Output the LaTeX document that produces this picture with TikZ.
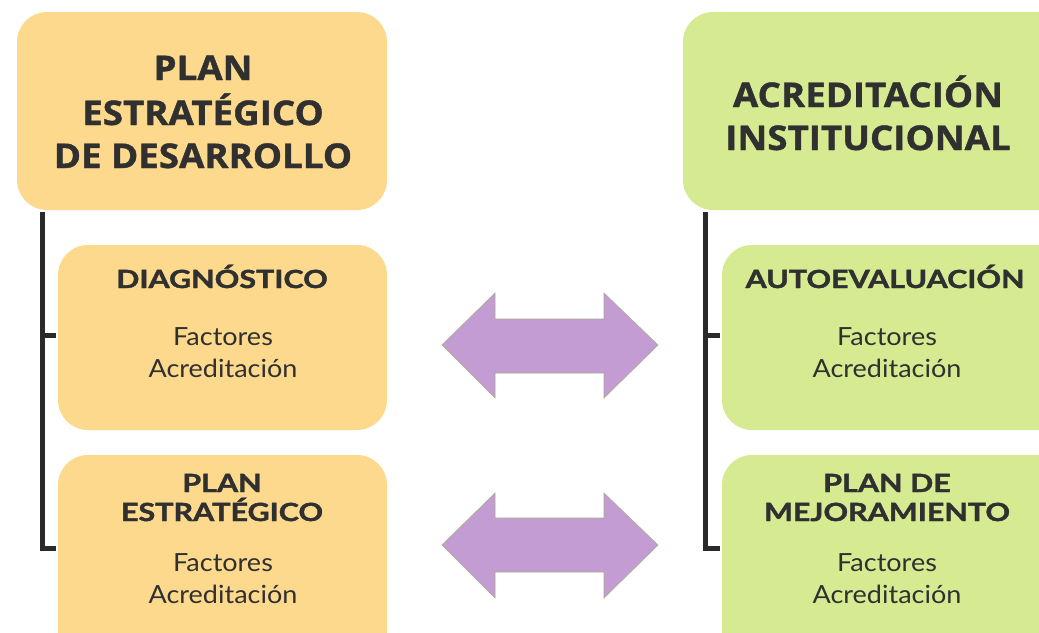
\documentclass[tikz,border=0pt]{standalone}
\usepackage{fontspec}
\setmainfont{Lato}[FakeStretch=1.08]
\newfontfamily\hdfont{Open Sans}[FakeStretch=1.08, BoldFeatures={FakeBold=1.2}]
\newfontfamily\subfont{Lato}[FakeStretch=1.22, BoldFeatures={FakeBold=1.6}]
\definecolor{orangebox}{HTML}{FCD98C}
\definecolor{greenbox}{HTML}{D6EB91}
\definecolor{arrowfill}{HTML}{C39CD3}
\definecolor{arrowline}{HTML}{A9AE8C}
\definecolor{txt}{HTML}{303030}
\definecolor{bracket}{HTML}{2A2A2A}
\begin{document}
\begin{tikzpicture}[x=1pt,y=-1pt,
  box/.style={rounded corners=30pt, inner sep=0pt},
  orangestyle/.style={box, fill=orangebox},
  greenstyle/.style={box, fill=greenbox},
  hd/.style={font=\hdfont\bfseries\fontsize{34}{44}\selectfont, text=txt, align=center, anchor=base, inner sep=0pt},
  sub/.style={font=\subfont\bfseries\fontsize{25}{29}\selectfont, text=txt, anchor=base, inner sep=0pt},
  fac/.style={font=\fontsize{25}{32}\selectfont, text=txt, anchor=base, inner sep=0pt},
  brk/.style={draw=bracket, line width=5pt},
  dbl/.style={fill=arrowfill, draw=arrowline, line width=0.6pt, line join=miter}
]
\clip (0,0) rectangle (1039,632);
\fill[white] (0,0) rectangle (1039,632);

% boxes
\fill[orangestyle] (17,12) rectangle (387,210);
\fill[greenstyle] (683,12) rectangle (1069,210);
\fill[orangestyle] (58,245) rectangle (387,430);
\fill[orangestyle] (58,455) rectangle (387,660);
\fill[greenstyle] (722,245) rectangle (1069,430);
\fill[greenstyle] (722,455) rectangle (1069,660);

% headings
\node[hd] (ped1) at (203,80) {PLAN};
\node[hd] (ped2) at (203,125) {ESTRATÉGICO};
\node[hd] (ped3) at (203,168) {DE DESARROLLO};
\node[hd] (ac1) at (868,107) {ACREDITACIÓN};
\node[hd] (ac2) at (868,150) {INSTITUCIONAL};

\node[sub] (diag) at (222,288) {DIAGNÓSTICO};
\node[fac] (diagf1) at (223,345) {Factores};
\node[fac] (diagf2) at (223,377) {Acreditación};

\node[sub] (pe1) at (222,492) {PLAN};
\node[sub] (pe2) at (222,521) {ESTRATÉGICO};
\node[fac] (pef1) at (223,571) {Factores};
\node[fac] (pef2) at (223,603) {Acreditación};

\node[sub] (auto) at (885,288) {AUTOEVALUACIÓN};
\node[fac] (autof1) at (887,345) {Factores};
\node[fac] (autof2) at (887,377) {Acreditación};

\node[sub] (pm1) at (887,492) {PLAN DE};
\node[sub] (pm2) at (887,521) {MEJORAMIENTO};
\node[fac] (pmf1) at (887,571) {Factores};
\node[fac] (pmf2) at (887,603) {Acreditación};

% brackets
\coordinate (lt) at (42,212);
\coordinate (lm) at (56,335);
\coordinate (lb) at (56,548);
\draw[brk] (lt) -- (42,335) -- (lm);
\draw[brk] (42,333) |- (lb);
\coordinate (rt) at (705,212);
\coordinate (rm) at (720,335);
\coordinate (rb) at (720,548);
\draw[brk] (rt) -- (705,335) -- (rm);
\draw[brk] (705,333) |- (rb);

% double arrows
\coordinate (arrA) at (550,345);
\draw[dbl] (442,345) -- (495,293) -- (495,319) -- (604,319) -- (604,293) -- (658,345)
  -- (604,398) -- (604,373) -- (495,373) -- (495,398) -- cycle;
\coordinate (arrB) at (550,545);
\draw[dbl] (442,545) -- (495,493) -- (495,518) -- (604,518) -- (604,493) -- (658,545)
  -- (604,598) -- (604,572) -- (495,572) -- (495,598) -- cycle;
\end{tikzpicture}
\end{document}
